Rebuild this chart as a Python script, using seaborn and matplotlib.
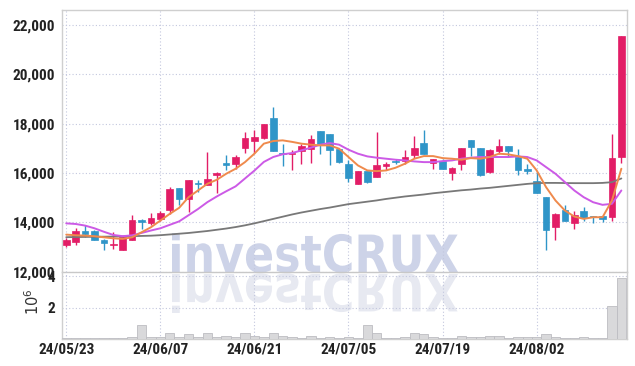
import numpy as np
import pandas as pd
import matplotlib
matplotlib.use("Agg")
import matplotlib.pyplot as plt
import seaborn as sns
from matplotlib.textpath import TextPath
from matplotlib.patches import PathPatch
from matplotlib.font_manager import FontProperties
from matplotlib.transforms import Affine2D, IdentityTransform

# ---------------- data ----------------
dates = ["24/05/23", "24/05/24", "24/05/27", "24/05/28", "24/05/29", "24/05/30", "24/05/31",
         "24/06/03", "24/06/04", "24/06/05", "24/06/07", "24/06/10", "24/06/11", "24/06/12",
         "24/06/13", "24/06/14", "24/06/17", "24/06/18", "24/06/19", "24/06/20", "24/06/21",
         "24/06/24", "24/06/25", "24/06/26", "24/06/27", "24/06/28", "24/07/01", "24/07/02",
         "24/07/03", "24/07/04", "24/07/05", "24/07/08", "24/07/09", "24/07/10", "24/07/11",
         "24/07/12", "24/07/15", "24/07/16", "24/07/17", "24/07/18", "24/07/19", "24/07/22",
         "24/07/23", "24/07/24", "24/07/25", "24/07/26", "24/07/29", "24/07/30", "24/07/31",
         "24/08/01", "24/08/02", "24/08/05", "24/08/06", "24/08/07", "24/08/08", "24/08/09",
         "24/08/12", "24/08/13", "24/08/14", "24/08/16"]

opens = [13100, 13220, 13667, 13667, 13300, 13065, 12880, 13300, 14110, 13960,
         14150, 14510, 15380, 14960, 15600, 15530, 15930, 16400, 16350, 17020,
         17300, 17420, 18230, 16820, 16770, 16890, 16960, 17690, 17600, 16960,
         16350, 15570, 16090, 15830, 16280, 16470, 16470, 16740, 17220, 16400,
         16470, 16010, 16380, 17320, 17000, 16060, 16890, 17090, 16650, 16150,
         15690, 15010, 13830, 14520, 13960, 14450, 14250, 14240, 14210, 16650]
highs = [13380, 13790, 13890, 13680, 13320, 13610, 13450, 14310, 14120, 14390,
         14460, 15420, 15400, 15720, 15710, 16860, 16030, 16740, 16715, 17680,
         17730, 18000, 18680, 17190, 16940, 17190, 17530, 17690, 17600, 16960,
         16510, 16100, 16090, 17660, 16440, 16580, 16920, 17500, 17730, 16560,
         16580, 16240, 17000, 17320, 17000, 16960, 17390, 17100, 16990, 16380,
         16040, 15040, 14390, 14720, 14480, 14610, 14260, 14240, 17600, 21560]
lows = [13020, 13100, 13400, 13290, 12890, 12920, 12860, 13290, 13740, 13910,
        14050, 14350, 14700, 14440, 15250, 15500, 15200, 16110, 16175, 16820,
        16810, 17400, 16880, 16270, 16130, 16360, 16410, 16790, 16310, 16400,
        15630, 15560, 15600, 15830, 16110, 16380, 16380, 16600, 16780, 16180,
        16160, 15700, 16110, 16680, 15880, 16000, 16780, 16650, 15940, 15970,
        15200, 12880, 13290, 14070, 13740, 14070, 13980, 14000, 14070, 16420]
closes = [13300, 13667, 13510, 13290, 13145, 13138, 13420, 14110, 14000, 14190,
          14360, 15370, 14950, 15700, 15550, 15770, 16000, 16320, 16646, 17420,
          17450, 17990, 16880, 16780, 16820, 17110, 17400, 17190, 16920, 16440,
          15790, 16090, 15630, 16310, 16380, 16440, 16650, 17010, 16790, 16550,
          16160, 16190, 17000, 17050, 15920, 16950, 17090, 16890, 16120, 16080,
          15210, 13680, 14320, 14070, 14300, 14180, 14220, 14140, 16620, 21550]

ma5 = [13504, 13477, 13463, 13440, 13395, 13354, 13330, 13395, 13598, 13801,
       14073, 14344, 14589, 15020, 15293, 15564, 15727, 15971, 16174, 16443,
       16785, 17191, 17297, 17325, 17264, 17191, 17150, 17122, 17122, 16987,
       16650, 16309, 16106, 16077, 16106, 16215, 16378, 16581, 16687, 16687,
       16606, 16581, 16540, 16606, 16581, 16650, 16785, 16756, 16687, 16581,
       16106, 15427, 14886, 14480, 14236, 14142, 14209, 14209, 14886, 16175]
ma20 = [13960, 13935, 13870, 13760, 13620, 13490, 13440, 13475, 13570, 13670,
        13760, 13900, 14040, 14290, 14540, 14820, 15050, 15260, 15460, 15780,
        16100, 16450, 16650, 16760, 16809, 16919, 17028, 17150, 17216, 17150,
        16946, 16785, 16675, 16622, 16581, 16540, 16512, 16471, 16443, 16443,
        16484, 16512, 16581, 16622, 16650, 16650, 16650, 16650, 16675, 16650,
        16512, 16240, 15970, 15632, 15293, 15020, 14817, 14711, 14752, 15293]
ma60 = [13400, 13405, 13410, 13415, 13420, 13425, 13430, 13440, 13450, 13460,
        13480, 13510, 13540, 13570, 13610, 13650, 13700, 13750, 13810, 13880,
        13960, 14050, 14140, 14230, 14320, 14400, 14470, 14540, 14600, 14670,
        14740, 14790, 14840, 14890, 14950, 15000, 15050, 15090, 15130, 15180,
        15220, 15260, 15300, 15330, 15370, 15400, 15440, 15480, 15520, 15560,
        15590, 15600, 15600, 15595, 15590, 15590, 15590, 15600, 15630, 15780]

volume_m = [0.02, 0.06, 0.06, 0.02, 0.06, 0.06, 0.03, 0.13, 0.85, 0.13,
            0.13, 0.34, 0.13, 0.27, 0.13, 0.39, 0.13, 0.20, 0.13, 0.34,
            0.20, 0.13, 0.39, 0.20, 0.13, 0.04, 0.20, 0.04, 0.13, 0.06,
            0.13, 0.04, 0.85, 0.34, 0.04, 0.04, 0.13, 0.39, 0.27, 0.13,
            0.04, 0.04, 0.20, 0.13, 0.13, 0.20, 0.20, 0.06, 0.13, 0.13,
            0.13, 0.27, 0.13, 0.04, 0.04, 0.13, 0.04, 0.04, 2.10, 3.87]

tick_idx = [0, 10, 20, 30, 40, 50]
price_ticks = [12000, 14000, 16000, 18000, 20000, 22000]

# ---------------- styling ----------------
UP = "#e21d66"
DOWN = "#2f95c8"
GRID = "#c3c7de"
SPINE = "#cfcfcf"

sns.set_theme(style="white")
plt.rcParams["font.family"] = ["Liberation Sans Narrow", "Roboto Condensed", "Roboto", "DejaVu Sans"]

W, H = 635, 366
fig = plt.figure(figsize=(W / 100, H / 100), dpi=100)
fig.patch.set_facecolor("white")

L, R = 62, 627
ax = fig.add_axes([L / W, 1 - 272 / H, (R - L) / W, (272 - 10) / H])
axv = fig.add_axes([L / W, 1 - 338.7 / H, (R - L) / W, (338.7 - 272) / H], sharex=ax)
for a in (ax, axv):
    a.set_facecolor("none")

df = pd.DataFrame({"idx": np.arange(len(dates)), "date": dates, "open": opens,
                   "high": highs, "low": lows, "close": closes,
                   "ma5": ma5, "ma20": ma20, "ma60": ma60, "vol": np.array(volume_m) * 1e6})
up = df["close"] >= df["open"]
cols = np.where(up, UP, DOWN)

# candles
body_lo = np.minimum(df["open"], df["close"])
body_h = np.maximum(np.abs(df["close"] - df["open"]), 40)
ax.vlines(df["idx"], df["low"], df["high"], colors=cols, linewidth=1.0, zorder=3)
ax.bar(df["idx"], body_h, bottom=body_lo, width=0.7, color=cols, edgecolor=cols,
       linewidth=0.5, zorder=4)

# moving averages via seaborn
sns.lineplot(data=df, x="idx", y="ma60", ax=ax, color="#787878", linewidth=1.3, zorder=5)
sns.lineplot(data=df, x="idx", y="ma20", ax=ax, color="#cc5ae6", linewidth=1.4, zorder=5)
sns.lineplot(data=df, x="idx", y="ma5", ax=ax, color="#ef8a4c", linewidth=1.4, zorder=6)

# volume
axv.bar(df["idx"], df["vol"], width=1.0, color="#d9d9db", edgecolor="#bdbdc2",
        linewidth=0.6, zorder=3)

# axes settings
ax.set_xlim(-0.45, 59.6)
ax.set_ylim(11988, 22610)
axv.set_ylim(0, 4.28e6)
ax.set_yticks(price_ticks)
ax.set_yticklabels([f"{v:,}" for v in price_ticks])
ax.set_xticks(tick_idx)
ax.tick_params(axis="x", labelbottom=False, length=0)
axv.set_xticks(tick_idx)
axv.set_xticklabels([dates[i] for i in tick_idx])
axv.set_yticks([2e6, 4e6])
axv.set_yticklabels(["2", "4"])
for a in (ax, axv):
    a.set_xlabel("")
    a.set_ylabel("")
    a.tick_params(axis="both", length=0, labelsize=11, colors="#222222", pad=5)
    a.grid(True, linestyle=(0, (1, 2)), color=GRID, linewidth=0.8)
    for s in a.spines.values():
        s.set_color(SPINE)
        s.set_linewidth(1.0)
axv.tick_params(axis="x", pad=3)
ax.spines["bottom"].set_color("#c8c8c8")
axv.spines["top"].set_visible(False)
for t in ax.get_yticklabels() + axv.get_yticklabels() + axv.get_xticklabels():
    t.set_fontweight("bold")

fig.text(33 / W, 1 - 302 / H, r"$10^{6}$", rotation=90, ha="center", va="center",
         fontsize=10.5, color="#333333")

# watermark "investCRUX" with reflection
fp = FontProperties(family="DejaVu Sans", weight="bold")
tp = TextPath((0, 0), "investCRUX", size=1, prop=fp)
ext = tp.get_extents()
sx = (458 - 172) / ext.width
sy = 39 / ext.y1
main_tr = Affine2D().translate(-ext.x0, 0).scale(sx, sy).translate(172, H - 272)
refl_tr = Affine2D().translate(-ext.x0, 0).scale(sx, -sy * 1.0).translate(172, H - 274)
wm = PathPatch(main_tr.transform_path(tp), facecolor="#cdd3e8", edgecolor="none",
               transform=IdentityTransform(), zorder=-1)
wr = PathPatch(refl_tr.transform_path(tp), facecolor="#e7e9f1", edgecolor="none",
               transform=IdentityTransform(), zorder=-1)
fig.add_artist(wr)
fig.add_artist(wm)

fig.savefig("out.png", dpi=100, facecolor="white")
